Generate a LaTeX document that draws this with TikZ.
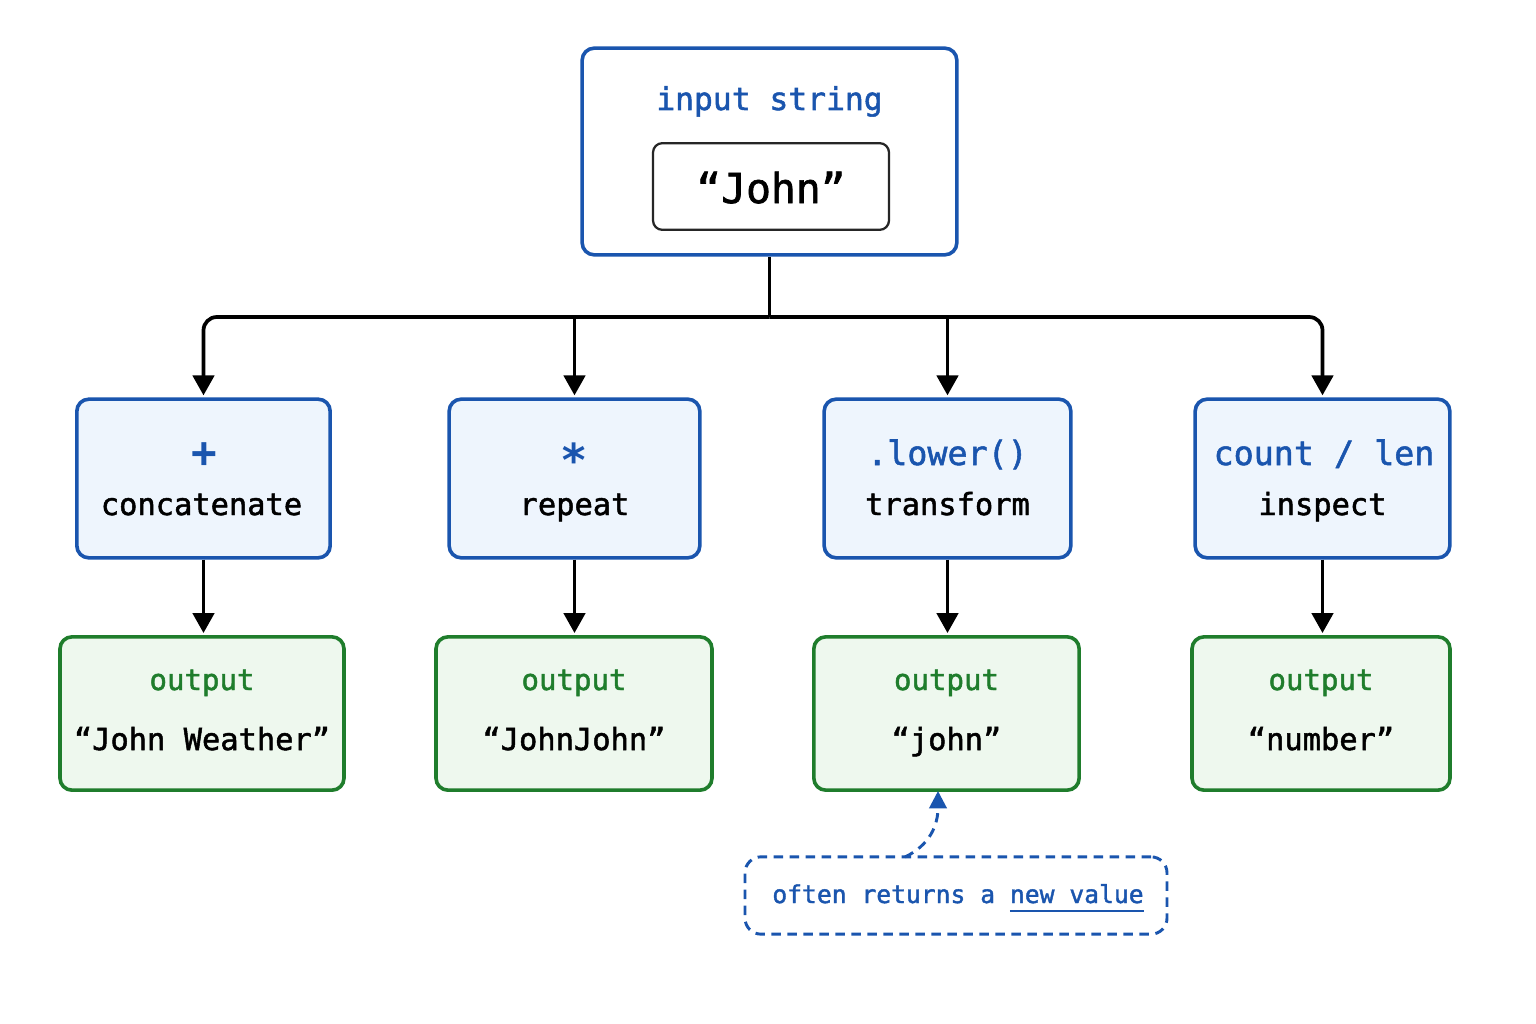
\documentclass[tikz,border=0pt]{standalone}
\usepackage{fontspec}
\setmonofont{DejaVu Sans Mono}
\newfontface\medmono{DejaVu Sans Mono}[FakeBold=1.6]
\usetikzlibrary{arrows.meta}
\definecolor{cblue}{HTML}{1A55AE}
\definecolor{cgreen}{HTML}{1F7D2C}
\definecolor{fblue}{HTML}{EEF5FD}
\definecolor{fgreen}{HTML}{EEF8EE}
\newcommand\myul[1]{\setbox0\hbox{#1}\rlap{\rule[-7pt]{\wd0}{1.4pt}}\box0}
\tikzset{
  box/.style={draw, line width=2.7pt, rounded corners=9pt, inner sep=0pt},
  opbox/.style={box, draw=cblue, fill=fblue, minimum height=119pt},
  outbox/.style={box, draw=cgreen, fill=fgreen, minimum height=115pt},
  lbl/.style={inner sep=0pt, anchor=base},
  arr/.style={line width=2.8pt, -{Triangle[length=15pt,width=16pt]}, shorten >=1.5pt},
}
\begin{document}
\begin{tikzpicture}[x=0.75pt,y=-0.75pt]
\useasboundingbox[fill=white] (0,0) rectangle (1536,1024);
% top
\node[box, draw=cblue, fill=white, minimum width=281pt, minimum height=155pt] (top) at (769.5,151.5) {};
\node[box, draw=black!85, line width=1.7pt, rounded corners=7pt, minimum width=177pt, minimum height=65pt] (inner) at (771,186.5) {};
\node[lbl, text=cblue, font=\medmono\fontsize{23.5}{28}\selectfont] (tt) at (769.5,110) {input string};
\node[lbl, font=\medmono\fontsize{31}{36}\selectfont] (john) at (771,203) {“John”};
% op boxes
\node[opbox, minimum width=190pt] (op1) at (203.5,478.5) {};
\node[opbox, minimum width=188pt] (op2) at (574.5,478.5) {};
\node[opbox, minimum width=185pt] (op3) at (947.5,478.5) {};
\node[opbox, minimum width=191pt] (op4) at (1322.5,478.5) {};
\node[lbl, text=cblue, font=\ttfamily\bfseries\fontsize{32}{36}\selectfont] (s1) at (204.5,467) {+};
\node[lbl, text=cblue, font=\ttfamily\bfseries\fontsize{34}{36}\selectfont] (s2) at (574.5,476) {*};
\node[lbl, text=cblue, font=\medmono\fontsize{25}{28}\selectfont] (s3) at (947.5,465) {.lower()};
\node[lbl, text=cblue, font=\medmono\fontsize{25}{28}\selectfont] (s4) at (1324,465) {count / len};
\node[lbl, font=\medmono\fontsize{22.8}{28}\selectfont] (d1) at (201.5,515) {concatenate};
\node[lbl, font=\medmono\fontsize{22.8}{28}\selectfont] (d2) at (574.5,515) {repeat};
\node[lbl, font=\medmono\fontsize{22.8}{28}\selectfont] (d3) at (947.5,515) {transform};
\node[lbl, font=\medmono\fontsize{22.8}{28}\selectfont] (d4) at (1322.5,515) {inspect};
% output boxes
\node[outbox, minimum width=213pt] (o1) at (202,713.5) {};
\node[outbox, minimum width=207pt] (o2) at (574,713.5) {};
\node[outbox, minimum width=199pt] (o3) at (946.5,713.5) {};
\node[outbox, minimum width=193.5pt] (o4) at (1321,713.5) {};
\foreach \n/\x in {1/202,2/574,3/946.5,4/1321}{
  \node[lbl, text=cgreen, font=\medmono\fontsize{21.8}{26}\selectfont] (ot\n) at (\x,690) {output};
}
\node[lbl, font=\medmono\fontsize{22.8}{28}\selectfont] (v1) at (202,750) {“John Weather”};
\node[lbl, font=\medmono\fontsize{22.8}{28}\selectfont] (v2) at (574,750) {“JohnJohn”};
\node[lbl, font=\medmono\fontsize{22.8}{28}\selectfont] (v3) at (946.5,750) {“john”};
\node[lbl, font=\medmono\fontsize{22.8}{28}\selectfont] (v4) at (1321,750) {“number”};
% connectors
\coordinate (bus) at (769.5,317);
\draw[line width=2.8pt] (top.south) -- (bus);
\draw[arr, rounded corners=10pt] (bus) -| (op1.north);
\draw[arr, rounded corners=10pt] (bus) -| (op4.north);
\draw[arr] (op2.north |- bus) -- (op2.north);
\draw[arr] (op3.north |- bus) -- (op3.north);
\foreach \i in {1,2,3,4}{
  \draw[arr] (op\i.south) -- (o\i.north -| op\i.south);
}
% callout
\node[box, draw=cblue, line width=2.2pt, dash pattern=on 7pt off 5pt, rounded corners=12pt, minimum width=316.5pt, minimum height=58pt, fill=white] (call) at (956,895.5) {};
\node[lbl, text=cblue, font=\medmono\fontsize{18.5}{22}\selectfont] (ct) at (958,903) {often returns a \myul{new value}};
\coordinate (cstart) at (905,857);
\coordinate (cend) at (938,791);
\draw[line width=2.2pt, draw=cblue, dash pattern=on 7pt off 5pt, -{Triangle[length=13pt,width=13pt]}, color=cblue] (cstart) .. controls (930,845) and (938,825) .. (cend);
\end{tikzpicture}
\end{document}
